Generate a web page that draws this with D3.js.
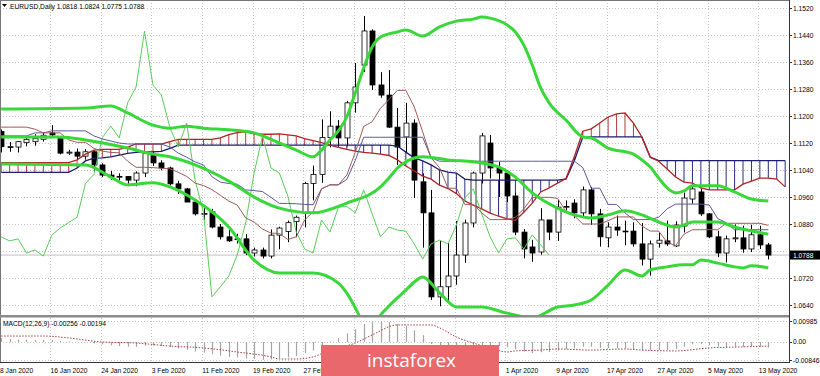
<!DOCTYPE html>
<html>
<head>
<meta charset="utf-8">
<script src="https://cdn.jsdelivr.net/npm/d3@7"></script>
<style>
body { margin: 0; background: #fff; }
svg { display: block; font-family: "Liberation Sans", Arial, sans-serif; }
</style>
</head>
<body>
<svg id="chart" width="820" height="376"></svg>
<script>
// Daily candles, 8 Jan 2020 .. 14 May 2020
const opens = [1.1154,1.1109,1.1108,1.1121,1.1124,1.1131,1.1150,1.1134,1.1090,1.1093,
  1.1081,1.1094,1.1055,1.1025,1.1020,1.1021,1.1010,1.1031,1.1084,1.1061,
  1.1046,1.0999,1.0984,1.0945,1.0910,1.0916,1.0871,1.0842,1.0836,1.0836,
  1.0794,1.0803,1.0785,1.0847,1.0858,1.0887,1.0913,1.1000,1.1027,1.1136,
  1.1170,1.1135,1.1239,1.1351,1.1452,1.1292,1.1262,1.1167,1.1138,1.1179,
  1.1005,1.0913,1.0664,1.0694,1.0726,1.0788,1.0883,1.1031,1.1120,1.1046,
  1.1031,1.0963,1.0856,1.0812,1.0797,1.0892,1.0856,1.0930,1.0942,1.0913,
  1.0981,1.0910,1.0839,1.0871,1.0859,1.0859,1.0821,1.0776,1.0823,1.0830,
  1.0815,1.0874,1.0954,1.0975,1.0910,1.0842,1.0794,1.0836,1.0839,1.0806,
  1.0848,1.0818];
const highs = [1.1160,1.1123,1.1126,1.1137,1.1146,1.1152,1.1173,1.1140,1.1100,1.1104,
  1.1102,1.1097,1.1060,1.1037,1.1030,1.1022,1.1036,1.1096,1.1096,1.1069,
  1.1050,1.1008,1.0987,1.0952,1.0927,1.0925,1.0880,1.0862,1.0851,1.0850,
  1.0810,1.0810,1.0864,1.0872,1.0890,1.0905,1.1005,1.1053,1.1190,1.1214,
  1.1188,1.1245,1.1357,1.1496,1.1457,1.1330,1.1336,1.1224,1.1239,1.1190,
  1.1030,1.0981,1.0830,1.0824,1.0889,1.0893,1.1035,1.1150,1.1144,1.1065,
  1.1040,1.0973,1.0865,1.0833,1.0927,1.0892,1.0951,1.0950,1.0953,1.0991,
  1.0990,1.0925,1.0885,1.0905,1.0890,1.0885,1.0883,1.0831,1.0855,1.0890,
  1.0888,1.0973,1.0998,1.0985,1.0912,1.0860,1.0846,1.0879,1.0875,1.0878,
  1.0875,1.0824];
const lows = [1.1092,1.1094,1.1092,1.1110,1.1112,1.1124,1.1135,1.1086,1.1085,1.1071,
  1.1074,1.1035,1.1019,1.1011,1.1009,1.0992,1.0992,1.1019,1.1052,1.1039,
  1.0994,1.0969,1.0945,1.0905,1.0892,1.0867,1.0834,1.0827,1.0822,1.0788,
  1.0784,1.0778,1.0778,1.0805,1.0826,1.0841,1.0870,1.0950,1.1002,1.1107,
  1.1110,1.1110,1.1210,1.1330,1.1277,1.1254,1.1165,1.1055,1.1090,1.0957,
  1.0810,1.0655,1.0636,1.0649,1.0700,1.0765,1.0870,1.1000,1.1015,1.0960,
  1.0945,1.0847,1.0778,1.0768,1.0789,1.0832,1.0830,1.0920,1.0897,1.0903,
  1.0877,1.0813,1.0811,1.0845,1.0817,1.0813,1.0757,1.0727,1.0810,1.0815,
  1.0812,1.0855,1.0940,1.0904,1.0838,1.0782,1.0766,1.0826,1.0795,1.0797,
  1.0806,1.0775];
const closes = [1.1109,1.1108,1.1124,1.1131,1.1134,1.1143,1.1144,1.1090,1.1093,1.1081,
  1.1094,1.1055,1.1025,1.1019,1.1021,1.1010,1.1031,1.1090,1.1061,1.1046,
  1.0999,1.0984,1.0945,1.0910,1.0911,1.0871,1.0842,1.0830,1.0836,1.0794,
  1.0803,1.0785,1.0847,1.0868,1.0884,1.0900,1.1000,1.1027,1.1136,1.1170,
  1.1135,1.1239,1.1286,1.1452,1.1292,1.1262,1.1167,1.1108,1.1179,1.1010,
  1.0913,1.0664,1.0694,1.0726,1.0788,1.0883,1.1031,1.1141,1.1046,1.1031,
  1.0963,1.0856,1.0806,1.0794,1.0892,1.0856,1.0930,1.0932,1.0913,1.0981,
  1.0910,1.0842,1.0871,1.0862,1.0859,1.0821,1.0776,1.0821,1.0832,1.0821,
  1.0877,1.0957,1.0984,1.0910,1.0842,1.0794,1.0836,1.0839,1.0806,1.0848,
  1.0818,1.0788];

// Ichimoku lines, one value per bar
const tenkan = [1.1167,1.1167,1.1167,1.1167,1.1161,1.1150,1.1150,1.1150,1.1129,1.1122,
  1.1122,1.1104,1.1096,1.1092,1.1091,1.1066,1.1048,1.1048,1.1047,1.1045,
  1.1044,1.1033,1.1021,1.1001,1.0994,1.0982,1.0965,1.0948,1.0936,1.0898,
  1.0886,1.0865,1.0853,1.0852,1.0834,1.0842,1.0892,1.0916,1.0984,1.0996,
  1.0996,1.1025,1.1092,1.1169,1.1183,1.1223,1.1249,1.1276,1.1276,1.1227,
  1.1153,1.1076,1.1047,1.0986,1.0986,1.0938,1.0938,1.0913,1.0893,1.0893,
  1.0893,1.0900,1.0925,1.0958,1.0959,1.0959,1.0956,1.0917,1.0904,1.0880,
  1.0880,1.0880,1.0890,1.0901,1.0901,1.0901,1.0874,1.0859,1.0859,1.0826,
  1.0816,1.0850,1.0863,1.0863,1.0863,1.0863,1.0882,1.0882,1.0882,1.0882,
  1.0882,1.0876];
const kijun = [1.1141,1.1141,1.1141,1.1141,1.1150,1.1150,1.1156,1.1156,1.1156,1.1156,
  1.1156,1.1141,1.1132,1.1126,1.1120,1.1117,1.1117,1.1117,1.1117,1.1117,
  1.1108,1.1090,1.1078,1.1064,1.1055,1.1020,1.1004,1.1000,1.0998,1.0981,
  1.0979,1.0976,1.0959,1.0941,1.0941,1.0940,1.0938,1.0937,1.0984,1.0996,
  1.0996,1.1012,1.1068,1.1137,1.1137,1.1137,1.1137,1.1137,1.1137,1.1137,
  1.1137,1.1076,1.1066,1.1066,1.1066,1.1066,1.1066,1.1066,1.1066,1.1066,
  1.1066,1.1066,1.1066,1.1066,1.1066,1.1066,1.1066,1.1066,1.1066,1.1047,
  1.0986,1.0986,1.0938,1.0938,1.0913,1.0893,1.0893,1.0893,1.0900,1.0925,
  1.0939,1.0939,1.0939,1.0939,1.0936,1.0896,1.0884,1.0863,1.0863,1.0863,
  1.0863,1.0863];
// cloud spans as plotted (already shifted forward), bars 0..93
const spanA = [1.1062,1.1062,1.1062,1.1062,1.1062,1.1062,1.1062,1.1062,1.1062,1.1070,
  1.1087,1.1099,1.1101,1.1101,1.1101,1.1108,1.1117,1.1117,1.1117,1.1117,
  1.1124,1.1131,1.1131,1.1131,1.1131,1.1131,1.1135,1.1145,1.1151,1.1153,
  1.1147,1.1146,1.1146,1.1147,1.1144,1.1141,1.1133,1.1127,1.1121,1.1114,
  1.1107,1.1101,1.1096,1.1092,1.1090,1.1087,1.1083,1.1070,1.1052,1.1037,
  1.1022,1.1013,1.0995,1.0985,1.0970,1.0948,1.0936,1.0925,1.0912,1.0903,
  1.0895,1.0891,1.0915,1.0942,1.0975,1.0987,1.1001,1.1015,1.1080,1.1155,
  1.1162,1.1179,1.1197,1.1206,1.1209,1.1179,1.1138,1.1078,1.1066,1.1043,
  1.1019,1.1004,1.1001,1.0987,1.0981,1.0981,1.0981,1.0981,1.0998,1.1007,
  1.1016,1.1016,1.1013,1.0990];
const spanB = [1.1033,1.1033,1.1033,1.1033,1.1033,1.1033,1.1033,1.1033,1.1033,1.1046,
  1.1067,1.1075,1.1076,1.1079,1.1084,1.1089,1.1092,1.1094,1.1094,1.1095,
  1.1104,1.1114,1.1114,1.1114,1.1114,1.1114,1.1114,1.1114,1.1114,1.1114,
  1.1114,1.1114,1.1114,1.1114,1.1114,1.1114,1.1114,1.1114,1.1114,1.1114,
  1.1114,1.1114,1.1114,1.1114,1.1114,1.1114,1.1114,1.1111,1.1093,1.1076,
  1.1067,1.1055,1.1040,1.1034,1.1031,1.1013,1.1010,1.1010,1.1010,1.1010,
  1.1010,1.1010,1.1010,1.1010,1.1010,1.1010,1.1010,1.1013,1.1068,1.1138,
  1.1138,1.1138,1.1138,1.1138,1.1138,1.1138,1.1138,1.1078,1.1068,1.1068,
  1.1068,1.1068,1.1068,1.1068,1.1068,1.1068,1.1068,1.1068,1.1068,1.1068,
  1.1068,1.1068,1.1068,1.1068];

// Bollinger bands, read as [bar, price] points along each line
const bbUpper = [[0,1.1221],[10,1.1224],[13,1.1230],[15,1.1209],[18,1.1173],[20,1.1164],[22,1.1170],
  [24,1.1164],[27,1.1159],[30,1.1150],[33,1.1120],[35,1.1099],[37,1.1079],[38,1.1099],[39,1.1129],
  [40,1.1156],[41,1.1197],[42,1.1268],[43,1.1342],[44,1.1404],[45,1.1434],[47,1.1449],[48,1.1455],
  [50,1.1437],[52,1.1464],[54,1.1481],[56,1.1487],[57,1.1493],[58,1.1490],[60,1.1470],[61,1.1449],
  [62,1.1410],[63,1.1351],[64,1.1283],[65,1.1239],[67,1.1188],[69,1.1138],[70,1.1135],[72,1.1105],
  [75,1.1087],[76,1.1070],[77,1.1049],[78,1.1016],[79,1.0987],[80,1.0972],[81,1.0978],[82,1.0993],
  [85,1.0993],[87,1.0975],[89,1.0954],[91,1.0948]];
const bbMiddle = [[0,1.1138],[7,1.1138],[10,1.1129],[15,1.1105],[18,1.1087],[20,1.1079],[23,1.1055],
  [27,1.1007],[30,1.0960],[33,1.0927],[37,1.0913],[41,1.0942],[45,1.0990],[46,1.1016],[47,1.1046],
  [48,1.1064],[50,1.1079],[53,1.1070],[57,1.1061],[59,1.1049],[61,1.1019],[63,1.0972],[66,1.0927],
  [68,1.0907],[70,1.0898],[72,1.0907],[74,1.0919],[76,1.0907],[78,1.0886],[80,1.0871],[81,1.0877],
  [82,1.0886],[85,1.0886],[87,1.0871],[91,1.0850]];
const bbLower = [[0,1.1058],[10,1.1055],[13,1.1019],[15,1.0996],[18,1.1002],[20,1.0990],[23,1.0951],
  [27,1.0871],[30,1.0773],[33,1.0735],[37,1.0735],[40,1.0705],[41,1.0675],[42,1.0632],[43,1.0585],
  [44,1.0570],[45,1.0610],[46,1.0637],[47,1.0661],[48,1.0684],[49,1.0708],[50,1.0723],[52,1.0676],
  [54,1.0634],[57,1.0634],[60,1.0616],[63,1.0602],[66,1.0634],[68,1.0640],[70,1.0655],[72,1.0699],
  [74,1.0744],[76,1.0726],[77,1.0744],[79,1.0753],[81,1.0759],[82,1.0759],[83,1.0773],[85,1.0764],
  [87,1.0753],[88,1.0750],[89,1.0756],[91,1.0750]];

// MACD(12,26,9): main per bar, signal as [bar, value] points
const macdMain = [0.0018,0.0014,0.0012,0.0011,0.0010,0.0010,0.0010,0.0005,0.0002,-0.0001,
  -0.0002,-0.0006,-0.0011,-0.0016,-0.0019,-0.0022,-0.0023,-0.0018,-0.0017,-0.0019,
  -0.0024,-0.0030,-0.0037,-0.0045,-0.0050,-0.0057,-0.0064,-0.0070,-0.0073,-0.0078,
  -0.0080,-0.0084,-0.0082,-0.0078,-0.0072,-0.0066,-0.0052,-0.0040,-0.0018,0.0002,
  0.0018,0.0040,0.0060,0.0085,0.0093,0.0098,0.0094,0.0084,0.0075,0.0055,
  0.0032,-0.0010,-0.0035,-0.0052,-0.0060,-0.0058,-0.0045,-0.0028,-0.0022,-0.0020,
  -0.0024,-0.0034,-0.0045,-0.0052,-0.0048,-0.0047,-0.0040,-0.0034,-0.0030,-0.0022,
  -0.0022,-0.0028,-0.0029,-0.0030,-0.0031,-0.0034,-0.0040,-0.0040,-0.0038,-0.0037,
  -0.0033,-0.0022,-0.0011,-0.0010,-0.0015,-0.0022,-0.0023,-0.0022,-0.0024,-0.0022,
  -0.0022,-0.00256];
const macdSignal = [[0,0.0028],[5,0.0028],[8,0.0019],[12,0.0000],[16,-0.0005],[20,-0.0019],[24,-0.0028],
  [28,-0.0047],[32,-0.0070],[33,-0.0080],[35,-0.0080],[37,-0.0070],[39,-0.0038],[42,-0.0005],
  [44,0.0033],[47,0.0080],[51,0.0080],[52,0.0066],[54,0.0023],[56,-0.0005],[58,-0.0028],
  [60,-0.0047],[61,-0.0042],[64,-0.0038],[66,-0.0033],[70,-0.0038],[74,-0.0033],[76,-0.0038],
  [80,-0.0042],[84,-0.0028],[88,-0.0023],[91,-0.00194]];

// axes
const priceTicks = [1.0640,1.0720,1.0800,1.0880,1.0960,1.1040,1.1120,1.1200,1.1280,1.1360,1.1440,1.1520];
const dateTickBars = [0,6,12,18,24,30,36,42,48,54,60,66,72,78,84,90];
const dateTickLabels = ["8 Jan 2020","16 Jan 2020","24 Jan 2020","3 Feb 2020","11 Feb 2020","19 Feb 2020",
  "27 Feb 2020","6 Mar 2020","16 Mar 2020","24 Mar 2020","1 Apr 2020","9 Apr 2020","17 Apr 2020",
  "27 Apr 2020","5 May 2020","13 May 2020"];
const macdTicks = [0.00985, 0, -0.00846];
const macdTickLabels = ["0.00985", "0.00", "-0.00846"];
const lastPrice = 1.0788;
const chikouShift = 26;

// setup
const svg = d3.select("#chart");
const plotW = 789;
const mainH = 316;
const fontSize = 6.7;
const mark = { x: 321, y: 345, w: 178, h: 31 };   // watermark box

const x = d3.scaleLinear().domain([0, 91]).range([1.2, 768.3]);
const y = d3.scaleLinear().domain([1.0640, 1.1520]).range([305, 8]);
const ym = d3.scaleLinear().domain([-0.00846, 0.00985]).range([360, 321]);

const defs = svg.append("defs");
defs.append("clipPath").attr("id", "clipMain")
    .append("rect").attr("x", 0).attr("y", 0).attr("width", plotW).attr("height", mainH);
defs.append("clipPath").attr("id", "clipMacd")
    .append("rect").attr("x", 0).attr("y", 318).attr("width", plotW).attr("height", 44);

// grid
const grid = svg.append("g")
    .attr("stroke", "#c4c4c4")
    .attr("stroke-dasharray", "1,2");
grid.selectAll("line.h").data(priceTicks).join("line")
    .attr("class", "h")
    .attr("x1", 0).attr("x2", plotW)
    .attr("y1", d => Math.round(y(d)) + 0.5)
    .attr("y2", d => Math.round(y(d)) + 0.5);
grid.selectAll("line.v").data(dateTickBars.slice(1)).join("line")
    .attr("class", "v")
    .attr("x1", d => Math.round(x(d) - 1.5) + 0.5)
    .attr("x2", d => Math.round(x(d) - 1.5) + 0.5)
    .attr("y1", 0).attr("y2", 362);
grid.selectAll("line.m").data(macdTicks).join("line")
    .attr("class", "m")
    .attr("x1", 0).attr("x2", plotW)
    .attr("y1", d => Math.round(ym(d)) + 0.5)
    .attr("y2", d => Math.round(ym(d)) + 0.5);

const main = svg.append("g").attr("clip-path", "url(#clipMain)");

// bid line
main.append("line")
    .attr("x1", 0).attr("x2", plotW)
    .attr("y1", y(lastPrice)).attr("y2", y(lastPrice))
    .attr("stroke", "#c0c0c0");

// cloud hatching
const cloudBars = d3.range(spanA.length);
main.append("g").selectAll("line").data(cloudBars).join("line")
    .attr("x1", i => x(i)).attr("x2", i => x(i))
    .attr("y1", i => y(spanA[i])).attr("y2", i => y(spanB[i]))
    .attr("stroke", i => spanA[i] >= spanB[i] ? "#b83a3a" : "#2a2a86")
    .attr("stroke-width", 1);

// candles
const bars = d3.range(closes.length);
const candle = main.append("g").selectAll("g").data(bars).join("g");
candle.append("line")
    .attr("x1", i => Math.round(x(i)) + 0.5).attr("x2", i => Math.round(x(i)) + 0.5)
    .attr("y1", i => y(highs[i])).attr("y2", i => y(lows[i]))
    .attr("stroke", "#000");
candle.append("rect")
    .attr("x", i => Math.round(x(i)) - 2)
    .attr("y", i => y(Math.max(opens[i], closes[i])))
    .attr("width", 5)
    .attr("height", i => Math.max(0.8, Math.abs(y(opens[i]) - y(closes[i]))))
    .attr("fill", i => closes[i] >= opens[i] ? "#fff" : "#000")
    .attr("stroke", "#000")
    .attr("stroke-width", 0.8);

// cloud border lines
const lineIdx = arr => d3.line().x((d, i) => x(i)).y(d => y(d));
main.append("path").datum(spanB).attr("d", lineIdx(spanB))
    .attr("fill", "none").attr("stroke", "#1c1c70").attr("stroke-width", 1.3);
main.append("path").datum(spanA).attr("d", lineIdx(spanA))
    .attr("fill", "none").attr("stroke", "#b02424").attr("stroke-width", 1.3);

// chikou span: closes drawn 26 bars back
const chikou = closes.slice(chikouShift);
main.append("path").datum(chikou).attr("d", lineIdx(chikou))
    .attr("fill", "none").attr("stroke", "#5ccc5c").attr("stroke-width", 1);

// tenkan / kijun
main.append("path").datum(kijun).attr("d", lineIdx(kijun))
    .attr("fill", "none").attr("stroke", "#5a5aa0").attr("stroke-width", 1);
main.append("path").datum(tenkan).attr("d", lineIdx(tenkan))
    .attr("fill", "none").attr("stroke", "#a05a5a").attr("stroke-width", 1);

// bollinger bands
const bbLine = d3.line().x(d => x(d[0])).y(d => y(d[1])).curve(d3.curveMonotoneX);
[bbUpper, bbMiddle, bbLower].forEach(band => {
    main.append("path").datum(band).attr("d", bbLine)
        .attr("fill", "none").attr("stroke", "#38d838")
        .attr("stroke-width", 3).attr("stroke-linejoin", "round");
});

// MACD panel
const macd = svg.append("g").attr("clip-path", "url(#clipMacd)");
macd.selectAll("line").data(bars).join("line")
    .attr("x1", i => Math.round(x(i)) + 0.5).attr("x2", i => Math.round(x(i)) + 0.5)
    .attr("y1", ym(0)).attr("y2", i => ym(macdMain[i]))
    .attr("stroke", "#a4a4a4").attr("stroke-width", 1.2);
macd.append("path").datum(macdSignal)
    .attr("d", d3.line().x(d => x(d[0])).y(d => ym(d[1])).curve(d3.curveMonotoneX))
    .attr("fill", "none").attr("stroke", "#b04040")
    .attr("stroke-width", 1).attr("stroke-dasharray", "1.5,1.5");

// frame and separators
svg.append("line").attr("x1", 0).attr("x2", plotW).attr("y1", 0.5).attr("y2", 0.5).attr("stroke", "#777");
svg.append("line").attr("x1", 0.5).attr("x2", 0.5).attr("y1", 0).attr("y2", 362).attr("stroke", "#777");
svg.append("rect").attr("x", 0).attr("y", 315).attr("width", plotW).attr("height", 2.5).attr("fill", "#8a8a8a");
svg.append("line").attr("x1", 0).attr("x2", plotW + 1).attr("y1", 362.5).attr("y2", 362.5).attr("stroke", "#333");
svg.append("line").attr("x1", plotW + 0.5).attr("x2", plotW + 0.5).attr("y1", 0).attr("y2", 363).attr("stroke", "#333");

// price axis (the 1.0800 label sits under the current-price box, so only its tick is drawn)
const axisG = svg.append("g").attr("font-size", fontSize).attr("fill", "#000");
axisG.selectAll("line").data(priceTicks).join("line")
    .attr("x1", plotW).attr("x2", plotW + 3)
    .attr("y1", d => Math.round(y(d)) + 0.5).attr("y2", d => Math.round(y(d)) + 0.5)
    .attr("stroke", "#333");
axisG.selectAll("text").data(priceTicks.filter(d => Math.abs(y(d) - y(lastPrice)) > 8)).join("text")
    .attr("x", 793).attr("y", d => y(d) + 2.5)
    .text(d => d3.format(".4f")(d));

// macd axis
const macdAxis = svg.append("g").attr("font-size", fontSize);
macdAxis.selectAll("line").data(macdTicks).join("line")
    .attr("x1", plotW).attr("x2", plotW + 3)
    .attr("y1", d => Math.round(ym(d)) + 0.5).attr("y2", d => Math.round(ym(d)) + 0.5)
    .attr("stroke", "#333");
macdAxis.selectAll("text").data(macdTicks).join("text")
    .attr("x", 793).attr("y", d => ym(d) + 2.5)
    .text((d, i) => macdTickLabels[i]);

// current price box
svg.append("rect").attr("x", 790).attr("y", y(lastPrice) - 4.5).attr("width", 30).attr("height", 9).attr("fill", "#000");
svg.append("text").attr("x", 793).attr("y", y(lastPrice) + 2.5)
    .attr("font-size", fontSize).attr("fill", "#fff")
    .text(d3.format(".4f")(lastPrice));

// date axis (labels that fall fully under the watermark are not visible)
const dateTicks = dateTickBars.map((b, i) => ({ bar: b, label: dateTickLabels[i] }))
    .filter(d => x(d.bar) < mark.x || x(d.bar) > mark.x + mark.w);
svg.append("g").attr("font-size", fontSize).selectAll("text").data(dateTicks).join("text")
    .attr("x", d => Math.max(0, x(d.bar) - 1.2)).attr("y", 373)
    .text(d => d.label);

// labels
svg.append("path").attr("d", "M2,4 L7,4 L4.5,7 Z").attr("fill", "#000");
svg.append("text").attr("x", 10).attr("y", 9).attr("font-size", fontSize)
    .text("EURUSD,Daily  1.0818 1.0824 1.0775 1.0788");
svg.append("text").attr("x", 3).attr("y", 325.5).attr("font-size", fontSize)
    .text("MACD(12,26,9) -0.00256 -0.00194");

// watermark
svg.append("rect").attr("x", mark.x).attr("y", mark.y).attr("width", mark.w).attr("height", mark.h).attr("fill", "#e8686b");
svg.append("text").attr("x", 367).attr("y", 367).attr("font-size", 19)
    .attr("font-family", "'Open Sans', sans-serif").attr("fill", "#fff")
    .text("instaforex");
</script>
</body>
</html>
